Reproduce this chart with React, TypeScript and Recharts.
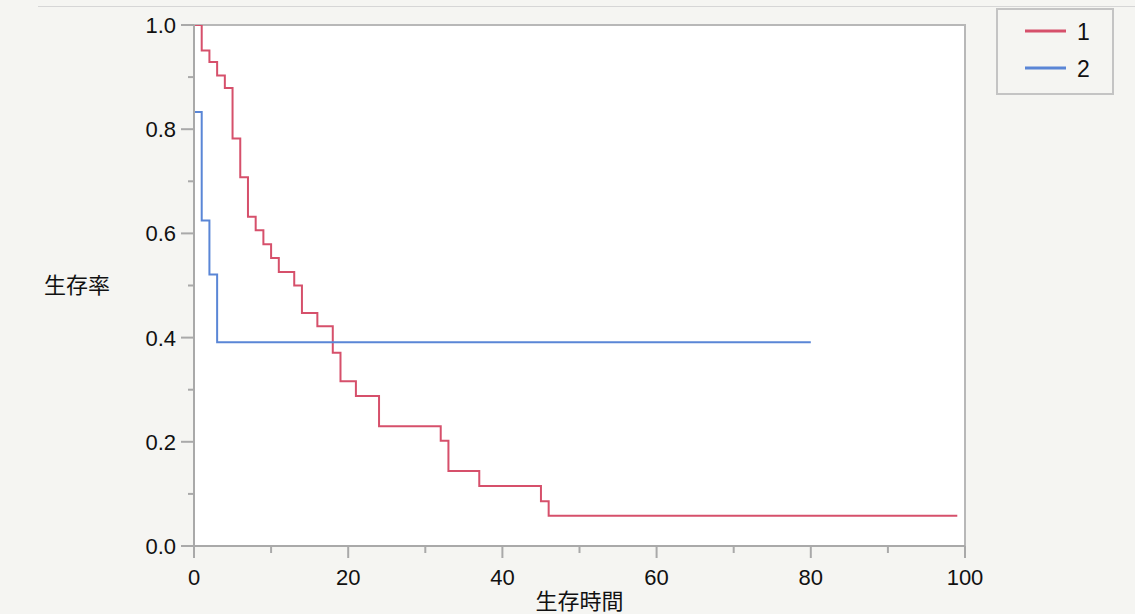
import { CartesianGrid, Legend, Line, LineChart, ReferenceArea, XAxis, YAxis } from 'recharts';

// 生存時間 / 生存率 (Kaplan-Meier)
const group1Times = [0, 1, 2, 3, 4, 5, 6, 7, 8, 9, 10, 11, 13, 14, 16, 18, 19, 21, 24, 32, 33, 37, 45, 46, 99];
const group1Surv = [1.0, 0.951, 0.929, 0.903, 0.879, 0.782, 0.708, 0.632, 0.606, 0.579, 0.553, 0.526, 0.5, 0.447, 0.422, 0.371, 0.316, 0.288, 0.23, 0.202, 0.144, 0.115, 0.086, 0.058, 0.058];

const group2Times = [0, 1, 2, 3, 80];
const group2Surv = [0.833, 0.625, 0.521, 0.391, 0.391];

const xTicks = [0, 10, 20, 30, 40, 50, 60, 70, 80, 90, 100];
const yTicks = [0, 0.1, 0.2, 0.3, 0.4, 0.5, 0.6, 0.7, 0.8, 0.9, 1.0];

const groups = ['1', '2'];

const COLORS: { [k: string]: string } = {
    '1': '#d6506b',
    '2': '#5a86d6',
};

const FONT = '"Liberation Sans", Arial, "Noto Sans CJK JP", sans-serif';
const AXIS_GRAY = '#a9a9a9';

const data1 = group1Times.map((t, i) => ({ t, s: group1Surv[i] }));
const data2 = group2Times.map((t, i) => ({ t, s: group2Surv[i] }));

function XTick(props: any) {
    const { x, y, payload } = props;
    const major = payload.value % 20 === 0;
    return (
        <g>
            <line x1={x} x2={x} y1={y} y2={y + (major ? 12 : 7)} stroke={AXIS_GRAY} strokeWidth={2} />
            {major && (
                <text x={x} y={y + 39} textAnchor="middle" fontSize={22} fill="#111" fontFamily={FONT}>
                    {payload.value}
                </text>
            )}
        </g>
    );
}

function YTick(props: any) {
    const { x, y, payload } = props;
    const major = Math.round(payload.value * 10) % 2 === 0;
    return (
        <g>
            <line x1={x - (major ? 13 : 6)} x2={x} y1={y} y2={y} stroke={AXIS_GRAY} strokeWidth={2} />
            {major && (
                <text x={x - 18} y={y + 8} textAnchor="end" fontSize={22} fill="#111" fontFamily={FONT}>
                    {payload.value.toFixed(1)}
                </text>
            )}
        </g>
    );
}

function LegendBox() {
    return (
        <div
            style={{
                width: 118,
                height: 87,
                border: '2px solid #c4c4c4',
                background: '#f5f5f2',
                boxSizing: 'border-box',
            }}
        >
            <svg width={114} height={83} style={{ display: 'block' }}>
                {groups.map((g, i) => (
                    <g key={g}>
                        <line x1={27} x2={68} y1={21 + i * 37} y2={21 + i * 37} stroke={COLORS[g]} strokeWidth={3} />
                        <text x={79} y={30 + i * 37} fontSize={23} fill="#111" fontFamily={FONT}>
                            {g}
                        </text>
                    </g>
                ))}
            </svg>
        </div>
    );
}

export default function App() {
    return (
        <div style={{ position: 'absolute', left: 0, top: 0, width: 1135, height: 614, background: '#f5f5f2', overflow: 'hidden' }}>
            <div style={{ position: 'absolute', left: 38, top: 6, width: 1097, height: 1, background: '#d6d6d6' }} />
            <LineChart
                width={1135}
                height={614}
                margin={{ top: 25, right: 170, left: 134, bottom: 18 }}
                style={{ fontFamily: FONT }}
            >
                <CartesianGrid horizontal={false} vertical={false} fill="#ffffff" />
                <XAxis
                    type="number"
                    dataKey="t"
                    domain={[0, 100]}
                    ticks={xTicks}
                    tick={<XTick />}
                    tickSize={0}
                    tickMargin={0}
                    tickLine={false}
                    height={50}
                    stroke={AXIS_GRAY}
                    strokeWidth={2}
                    allowDataOverflow
                    label={{
                        value: '生存時間',
                        position: 'insideBottom',
                        offset: -13,
                        fontSize: 22,
                        fill: '#111',
                        fontFamily: FONT,
                    }}
                />
                <YAxis
                    type="number"
                    domain={[0, 1]}
                    ticks={yTicks}
                    tick={<YTick />}
                    tickSize={0}
                    tickMargin={0}
                    tickLine={false}
                    width={60}
                    stroke={AXIS_GRAY}
                    strokeWidth={2}
                    allowDataOverflow
                    label={(p: any) => (
                        <text
                            x={p.viewBox.x - 57}
                            y={293}
                            textAnchor="middle"
                            fontSize={22}
                            fill="#111"
                            fontFamily={FONT}
                        >
                            生存率
                        </text>
                    )}
                />
                <ReferenceArea x1={0} x2={100} y1={0} y2={1} fill="none" stroke="#b8b8b8" strokeWidth={2} />
                <Legend
                    layout="horizontal"
                    verticalAlign="middle"
                    align="center"
                    content={<LegendBox />}
                    wrapperStyle={{ position: 'absolute', left: 996, top: 8, width: 118, height: 87 }}
                />
                <Line
                    data={data1}
                    dataKey="s"
                    name="1"
                    type="stepAfter"
                    stroke={COLORS['1']}
                    strokeWidth={2}
                    dot={false}
                    isAnimationActive={false}
                />
                <Line
                    data={data2}
                    dataKey="s"
                    name="2"
                    type="stepAfter"
                    stroke={COLORS['2']}
                    strokeWidth={2}
                    dot={false}
                    isAnimationActive={false}
                />
            </LineChart>
        </div>
    );
}
